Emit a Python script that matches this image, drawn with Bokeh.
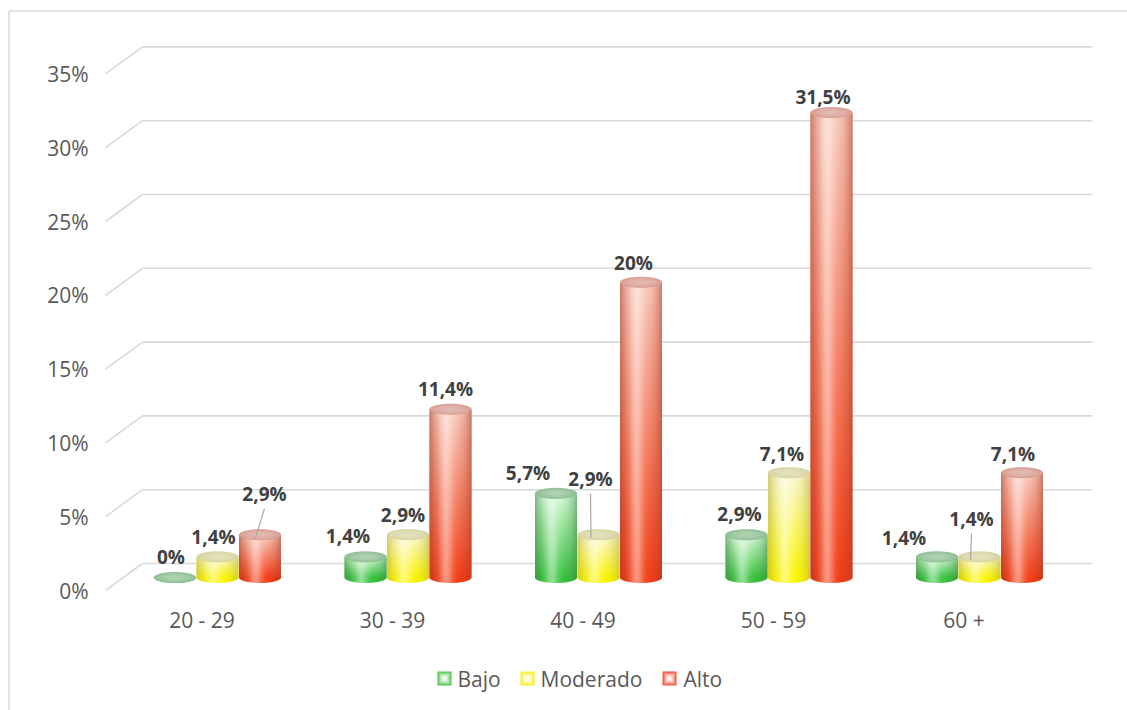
import numpy as np
from bokeh.plotting import figure
from bokeh.models import ColumnDataSource, Range1d
from bokeh.core.properties import value
from bokeh.embed import file_html
from bokeh.resources import INLINE

# ---------------------------------------------------------------- data
categories = ["20 - 29", "30 - 39", "40 - 49", "50 - 59", "60 +"]
series_names = ["Bajo", "Moderado", "Alto"]
bajo = [0.0, 1.4, 5.7, 2.9, 1.4]
moderado = [1.4, 2.9, 2.9, 7.1, 1.4]
alto = [2.9, 11.4, 20.0, 31.5, 7.1]
y_ticks = [0, 5, 10, 15, 20, 25, 30, 35]
y_tick_labels = ["0%", "5%", "10%", "15%", "20%", "25%", "30%", "35%"]

series_values = [bajo, moderado, alto]

# ---------------------------------------------------------------- layout (pixels)
W, H = 1127, 710
X0, SX = 201.5, 190.5          # front-plane x of first category, px per category
Y0, SY = 590.0, 14.76          # front-plane y of 0 %, px per percent
BACK_DX, BACK_DY = 37.0, -27.0 # depth shift to the back wall
BAR_DX, BAR_DY = 15.5, -13.0   # depth shift of the bar row
BAR_W, BAR_STEP = 42, 42.5
CAP_B = 5.5                    # half height of the elliptical caps
FONT = "Open Sans"
GRID_COLOR = "#d9d9d9"

# label nudges relative to each bar's top (px): [series][category]
label_dx = [[-4, -17.5, -28, -7, -33],
            [-4, -5, -8, -7, -8],
            [4.5, -5, -7.5, -8.5, -9]]
label_dy = [[-21, -21, -20, -21, -19],
            [-20, -20, -56, -19, -38],
            [-41, -20, -19, -16, -19]]
# leader lines: (series, category, end x offset from bar centre)
leaders = [(2, 0, -4.5), (1, 2, -7.5), (1, 4, -9.0)]

palettes = [
    dict(top=(218, 250, 218), bottom=(55, 195, 60), edge=(55, 130, 60), cap=(140, 190, 145), mid=(120, 215, 120), key=(60, 190, 60)),
    dict(top=(250, 248, 218), bottom=(252, 246, 0), edge=(180, 170, 45), cap=(215, 212, 160), mid=(245, 240, 110), key=(250, 240, 0)),
    dict(top=(250, 205, 190), bottom=(245, 62, 22), edge=(165, 55, 35), cap=(215, 155, 145), mid=(245, 130, 100), key=(240, 60, 30)),
]


def xd(px):
    return (px - X0) / SX


def yd(py):
    return (Y0 - py) / SY


def pct(v):
    if float(v).is_integer():
        return f"{int(v)}%"
    return f"{v:.1f}".replace(".", ",") + "%"


def ellipse_alpha(u, w, a, b):
    f = (u / a) ** 2 + (w / b) ** 2
    g = np.sqrt((2 * u / a ** 2) ** 2 + (2 * w / b ** 2) ** 2) + 1e-6
    return np.clip((1 - f) / g + 0.5, 0, 1)


def cylinder(h_px, pal):
    """Shaded cylinder (body + caps) as an RGBA image, 1 image px per screen px."""
    a, b, pad = BAR_W / 2, CAP_B, 2
    nw = int(BAR_W + 2 * pad)
    nh = int(np.ceil(h_px + 2 * b + 2 * pad))
    u = np.arange(nw) + 0.5 - nw / 2
    w = np.arange(nh) + 0.5
    U, Wv = np.meshgrid(u, w)
    wc0 = pad + b
    wc1 = wc0 + h_px
    side = np.clip(a - np.abs(U) + 0.5, 0, 1)
    body_a = np.where(Wv < wc0, ellipse_alpha(U, Wv - wc0, a, b),
                      np.where(Wv <= wc1, side, 0.0))
    top = np.array(pal["top"], float)
    bottom = np.array(pal["bottom"], float)
    edge = np.array(pal["edge"], float)
    cap = np.array(pal["cap"], float)
    t = np.clip((Wv - wc0) / max(h_px, 1.0), 0, 1)[..., None]
    col = bottom + (top - bottom) * t
    s = np.clip(U / a, -1, 1)
    e = (np.abs(s) ** 2.5 * 0.55)[..., None]
    col = col * (1 - e) + edge * e
    hl = (np.exp(-((s + 0.2) / 0.32) ** 2) * 0.45)[..., None]
    col = col * (1 - hl) + 255 * hl
    cap_a = ellipse_alpha(U, Wv - wc1, a, b)
    r2 = np.clip((U / a) ** 2 + ((Wv - wc1) / b) ** 2, 0, 1)
    ch = ((1 - r2) * 0.3)[..., None]
    ccol = cap * (1 - ch) + 255 * ch
    out_a = cap_a + body_a * (1 - cap_a)
    rgb = (ccol * cap_a[..., None] + col * (body_a * (1 - cap_a))[..., None]) / np.maximum(out_a, 1e-6)[..., None]
    rgba = np.zeros((nh, nw, 4), np.uint8)
    rgba[..., :3] = np.clip(rgb, 0, 255).astype(np.uint8)
    rgba[..., 3] = np.round(out_a * 255).astype(np.uint8)
    return rgba.view(np.uint32).reshape(nh, nw), nw, nh, pad


def swatch(col, n=14):
    c = np.arange(n) + 0.5 - n / 2
    X, Y = np.meshgrid(c, c)
    r = np.clip(np.maximum(np.abs(X), np.abs(Y)) / (n / 2), 0, 1)
    t = (r ** 1.6)[..., None]
    rgb = 255 * (1 - t) + np.array(col, float) * t
    rgba = np.zeros((n, n, 4), np.uint8)
    rgba[..., :3] = np.clip(rgb, 0, 255).astype(np.uint8)
    rgba[..., 3] = 255
    return rgba.view(np.uint32).reshape(n, n)


p = figure(width=W, height=H,
           x_range=Range1d(xd(0), xd(W)), y_range=Range1d(yd(H), yd(0)),
           output_backend="svg", toolbar_location=None,
           x_axis_location=None, y_axis_location=None,
           min_border=0, outline_line_color=None)
p.background_fill_color = "white"
p.border_fill_color = "white"
for g in p.grid:
    g.visible = False

# chart-area border (top and left edges)
p.segment(x0=[xd(8.5), xd(8.5)], y0=[yd(10.5), yd(10.5)],
          x1=[xd(8.5), xd(W)], y1=[yd(H), yd(10.5)],
          line_color=GRID_COLOR, line_width=1.5)

# gridlines: diagonal on the side wall + horizontal on the back wall
tick_y = np.array(y_ticks, float)
back_y = tick_y - BACK_DY / SY
p.segment(x0=[xd(105)] * len(tick_y), y0=tick_y,
          x1=[xd(105 + BACK_DX)] * len(tick_y), y1=back_y,
          line_color=GRID_COLOR, line_width=1.6)
p.segment(x0=[xd(105 + BACK_DX)] * len(tick_y), y0=back_y,
          x1=[xd(1092)] * len(tick_y), y1=back_y,
          line_color=GRID_COLOR, line_width=1.6)

# y tick labels on the front plane
p.text(x=[xd(88)] * len(y_ticks), y=tick_y, text=y_tick_labels,
       text_align="right", text_baseline="middle",
       text_font=value(FONT), text_font_size="21px", text_color="#595959")

# category labels
p.text(x=list(range(len(categories))), y=[yd(619)] * len(categories), text=categories,
       text_align="center", text_baseline="middle",
       text_font=value(FONT), text_font_size="21px", text_color="#595959")

# bars
base = -BAR_DY / SY
lab_x, lab_y, lab_t = [], [], []
ld_x0, ld_y0, ld_x1, ld_y1 = [], [], [], []
for s, vals in enumerate(series_values):
    pal = palettes[s]
    xs = [i + (BAR_DX + (s - 1) * BAR_STEP) / SX for i in range(len(vals))]
    mid = "#%02x%02x%02x" % pal["mid"]
    p.vbar(x=xs, bottom=[base] * len(vals), top=[base + v for v in vals],
           width=BAR_W / SX, fill_color=mid, line_color=None)
    imgs, ix, iy, idw, idh = [], [], [], [], []
    for i, v in enumerate(vals):
        img, nw, nh, pad = cylinder(v * SY, pal)
        imgs.append(img)
        ix.append(xs[i] - (nw / 2) / SX)
        iy.append(base - (pad + CAP_B) / SY)
        idw.append(nw / SX)
        idh.append(nh / SY)
        lab_x.append(xs[i] + label_dx[s][i] / SX)
        lab_y.append(base + v - label_dy[s][i] / SY)
        lab_t.append(pct(v))
    p.image_rgba(source=ColumnDataSource(dict(image=imgs, x=ix, y=iy, dw=idw, dh=idh)),
                 image="image", x="x", y="y", dw="dw", dh="dh")

for s, i, end_dx in leaders:
    v = series_values[s][i]
    xc = i + (BAR_DX + (s - 1) * BAR_STEP) / SX
    ld_x0.append(xc + label_dx[s][i] / SX)
    ld_y0.append(base + v - (label_dy[s][i] + 15) / SY)
    ld_x1.append(xc + end_dx / SX)
    ld_y1.append(base + v - 3 / SY)
p.segment(x0=ld_x0, y0=ld_y0, x1=ld_x1, y1=ld_y1, line_color="#a6a6a6", line_width=1.2)

# value labels
p.text(x=lab_x, y=lab_y, text=lab_t, text_align="center", text_baseline="middle",
       text_font=value(FONT), text_font_style="bold", text_font_size="19px",
       text_color="#404040")

# legend
key_px = [437, 520, 662]
text_px = [457, 540, 683]
legend_y = yd(678)
p.image_rgba(image=[swatch(palettes[k]["key"]) for k in range(3)],
             x=[xd(k) for k in key_px], y=[legend_y - 7 / SY] * 3,
             dw=[14 / SX] * 3, dh=[14 / SY] * 3)
p.text(x=[xd(k) for k in text_px], y=[legend_y] * 3, text=series_names,
       text_align="left", text_baseline="middle",
       text_font=value(FONT), text_font_size="21px", text_color="#595959")

open("out.html", "w").write(file_html(p, INLINE))
